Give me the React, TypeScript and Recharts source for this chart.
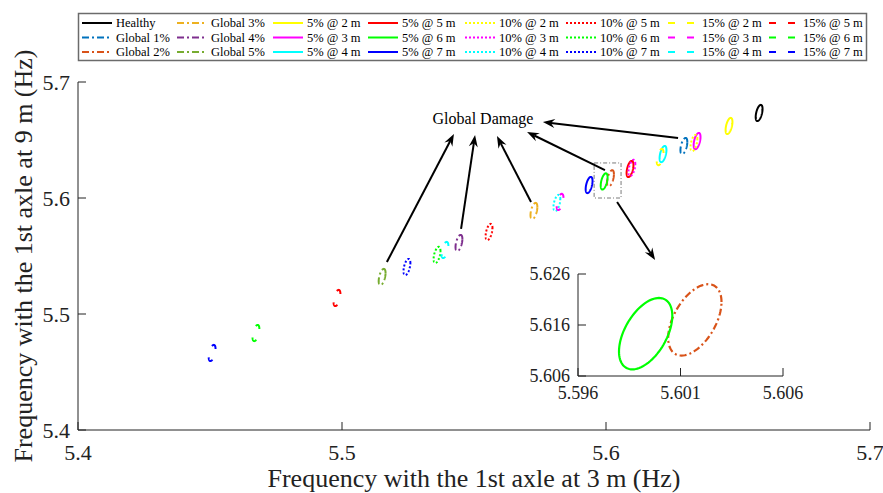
import {
  ReferenceArea,
  ReferenceDot,
  ReferenceLine,
  Scatter,
  ScatterChart,
  XAxis,
  YAxis,
} from "recharts"

const FONT = "'Liberation Serif', 'Times New Roman', Times, serif"
const AXIS_COLOR = "#222"

// Cases, in legend order (the legend box is filled column by column)
const seriesNames = [
  "Healthy", "Global 1%", "Global 2%",
  "Global 3%", "Global 4%", "Global 5%",
  "5% @ 2 m", "5% @ 3 m", "5% @ 4 m",
  "5% @ 5 m", "5% @ 6 m", "5% @ 7 m",
  "10% @ 2 m", "10% @ 3 m", "10% @ 4 m",
  "10% @ 5 m", "10% @ 6 m", "10% @ 7 m",
  "15% @ 2 m", "15% @ 3 m", "15% @ 4 m",
  "15% @ 5 m", "15% @ 6 m", "15% @ 7 m",
]

// Mean frequency (Hz) with the 1st axle at 3 m
const meanAt3m = [
  5.6580, 5.6295, 5.6017,
  5.5727, 5.5443, 5.5152,
  5.6466, 5.6345, 5.6216,
  5.6091, 5.5993, 5.5936,
  5.6333, 5.6098, 5.5814,
  5.5557, 5.5360, 5.5246,
  5.6205, 5.5826, 5.5390,
  5.4981, 5.4674, 5.4508,
]

// Mean frequency (Hz) with the 1st axle at 9 m
const meanAt9m = [
  5.6733, 5.6448, 5.6170,
  5.5888, 5.5612, 5.5319,
  5.6621, 5.6491, 5.6379,
  5.6250, 5.6143, 5.6112,
  5.6474, 5.6259, 5.5957,
  5.5707, 5.5509, 5.5405,
  5.6353, 5.5966, 5.5552,
  5.5138, 5.4836, 5.4664,
]

// Half-extent of each confidence ellipse and the correlation of the two frequencies
const spreadAt3m = 0.0013
const spreadAt9m = 0.007
const correlation = 0.5

const mainTicks = [5.4, 5.5, 5.6, 5.7]
const insetTicksX = [5.596, 5.601, 5.606]
const insetTicksY = [5.606, 5.616, 5.626]
const insetCases = ["Global 2%", "5% @ 6 m"]

// Zoom window marked in the main axes
const zoomX = [5.5955, 5.6057]
const zoomY = [5.6, 5.6302]

// Annotation arrows (tail -> head) in data units
const arrowTailX = [5.6273, 5.5996, 5.5716, 5.5451, 5.517, 5.6042]
const arrowTailY = [5.6517, 5.6241, 5.5966, 5.5733, 5.5448, 5.5966]
const arrowHeadX = [5.5761, 5.5701, 5.5587, 5.5504, 5.5424, 5.6186]
const arrowHeadY = [5.6655, 5.6569, 5.6534, 5.6543, 5.6552, 5.5466]
const noteText = "Global Damage"
const noteX = 5.5534
const noteY = 5.669

// ---- styles ----
const locationColors = ["#FFFF00", "#FF00FF", "#00FFFF", "#FF0000", "#00FF00", "#0000FF"]
const colors = [
  "#000000", "#0072BD", "#D95319", "#EDB120", "#7E2F8E", "#77AC30",
  ...locationColors, ...locationColors, ...locationColors,
]
const dashFor = (name: string) => {
  if (name.startsWith("Global")) return "7 3 2 3"
  if (name.startsWith("10%")) return "2 2"
  if (name.startsWith("15%")) return "7 12"
  return undefined
}

const ellipse = (cx: number, cy: number) => {
  const phase = Math.asin(correlation)
  const n = 90
  return Array.from({ length: n + 1 }, (_, k) => {
    const t = (2 * Math.PI * k) / n
    return {
      x: cx + spreadAt3m * Math.cos(t),
      y: cy + spreadAt9m * Math.sin(t + phase),
    }
  })
}

const series = seriesNames.map((name, i) => ({
  name,
  color: colors[i],
  dash: dashFor(name),
  points: ellipse(meanAt3m[i], meanAt9m[i]),
}))

const arrows = arrowTailX.map((x, i) => ({
  from: { x, y: arrowTailY[i] },
  to: { x: arrowHeadX[i], y: arrowHeadY[i] },
}))

const noMarker = () => <g />

// MATLAB-like ticks: short marks pointing into the axes, labels outside
type Side = "bottom" | "top" | "left" | "right"
const makeTick =
  (side: Side, fontSize = 0, digits = 1, gap = 0) =>
  (p: any) => {
    const { x, y, payload } = p
    const len = 8
    const label = Number(payload.value).toFixed(digits)
    let mark
    let text = null
    if (side === "bottom") {
      mark = <line x1={x} x2={x} y1={y} y2={y - len} stroke={AXIS_COLOR} />
      if (fontSize)
        text = (
          <text x={x} y={y + gap} textAnchor="middle" fontSize={fontSize} fontFamily={FONT} fill="#222">
            {label}
          </text>
        )
    } else if (side === "top") {
      mark = <line x1={x} x2={x} y1={y} y2={y + len} stroke={AXIS_COLOR} />
    } else if (side === "left") {
      mark = <line x1={x} x2={x + len} y1={y} y2={y} stroke={AXIS_COLOR} />
      if (fontSize)
        text = (
          <text x={x - gap} y={y} textAnchor="end" dominantBaseline="central" fontSize={fontSize} fontFamily={FONT} fill="#222">
            {label}
          </text>
        )
    } else {
      mark = <line x1={x} x2={x - len} y1={y} y2={y} stroke={AXIS_COLOR} />
    }
    return (
      <g>
        {mark}
        {text}
      </g>
    )
  }

// Line with a notched filled head at the (x2, y2) end
const ArrowShape = (p: any) => {
  const { x1, y1, x2, y2 } = p
  const dx = x2 - x1
  const dy = y2 - y1
  const len = Math.hypot(dx, dy) || 1
  const ux = dx / len
  const uy = dy / len
  const nx = -uy
  const ny = ux
  const headLen = 12
  const halfW = 4.5
  const notch = 8
  const bx = x2 - ux * headLen
  const by = y2 - uy * headLen
  const mx = x2 - ux * notch
  const my = y2 - uy * notch
  const d = `M${x2},${y2} L${bx + nx * halfW},${by + ny * halfW} L${mx},${my} L${bx - nx * halfW},${by - ny * halfW} Z`
  return (
    <g>
      <line x1={x1} y1={y1} x2={mx} y2={my} stroke="#000" strokeWidth={2} />
      <path d={d} fill="#000" />
    </g>
  )
}

const axisProps = {
  type: "number" as const,
  allowDataOverflow: true,
  interval: 0 as const,
  tickLine: false,
  tickSize: 0,
  tickMargin: 0,
  axisLine: { stroke: AXIS_COLOR, strokeWidth: 1 },
}

// legend layout
const legendColX = [82, 177, 273, 368, 465, 566, 668, 769]
const legendRowY = [23, 37.5, 52]

function LegendBox() {
  return (
    <svg width={883} height={70} style={{ position: "absolute", left: 0, top: 0 }}>
      <rect x={78.5} y={13.5} width={788} height={47} fill="#fff" stroke="#6b6b6b" strokeWidth={1.5} />
      {series.map((s, i) => {
        const x = legendColX[Math.floor(i / 3)]
        const y = legendRowY[i % 3]
        return (
          <g key={s.name}>
            <line x1={x} x2={x + 30} y1={y} y2={y} stroke={s.color} strokeWidth={2} strokeDasharray={s.dash} />
            <text x={x + 34} y={y} dominantBaseline="central" fontSize={12.5} fontFamily={FONT} fill="#000">
              {s.name}
            </text>
          </g>
        )
      })}
    </svg>
  )
}

function Inset() {
  const shown = series.filter((s) => insetCases.includes(s.name))
  return (
    <div style={{ position: "absolute", left: 510, top: 262 }}>
      <ScatterChart width={300} height={150} margin={{ top: 12, right: 27, bottom: 6, left: 0 }}>
        <XAxis {...axisProps} dataKey="x" domain={[5.596, 5.606]} ticks={insetTicksX} height={30} tick={makeTick("bottom", 18, 3, 23)} />
        <XAxis {...axisProps} xAxisId="top" orientation="top" domain={[5.596, 5.606]} ticks={insetTicksX} height={0} tick={makeTick("top")} />
        <YAxis {...axisProps} dataKey="y" domain={[5.606, 5.626]} ticks={insetTicksY} width={68} tick={makeTick("left", 18, 3, 8)} />
        <YAxis {...axisProps} yAxisId="right" orientation="right" domain={[5.606, 5.626]} ticks={insetTicksY} width={0} tick={makeTick("right")} />
        {shown.map((s) => (
          <Scatter
            key={s.name}
            name={s.name}
            data={s.points}
            line={{ stroke: s.color, strokeWidth: 2.2, strokeDasharray: s.dash }}
            shape={noMarker}
            isAnimationActive={false}
          />
        ))}
      </ScatterChart>
    </div>
  )
}

export default function App() {
  return (
    <div style={{ position: "absolute", left: 0, top: 0, width: 883, height: 493, background: "#fff" }}>
      <ScatterChart width={883} height={493} margin={{ top: 82, right: 13, bottom: 6, left: 0 }}>
        <XAxis
          {...axisProps}
          dataKey="x"
          domain={[5.4, 5.7]}
          ticks={mainTicks}
          height={57}
          tick={makeTick("bottom", 22, 1, 30)}
          label={{
            value: "Frequency with the 1st axle at 3 m (Hz)",
            position: "insideBottom",
            offset: 0,
            fill: "#222",
            fontSize: 26,
            fontFamily: FONT,
          }}
        />
        <XAxis {...axisProps} xAxisId="top" orientation="top" domain={[5.4, 5.7]} ticks={mainTicks} height={0} tick={makeTick("top")} />
        <YAxis
          {...axisProps}
          dataKey="y"
          domain={[5.4, 5.7]}
          ticks={mainTicks}
          width={78}
          tick={makeTick("left", 22, 1, 8)}
          label={{
            value: "Frequency with the 1st axle at 9 m (Hz)",
            angle: -90,
            position: "insideLeft",
            offset: 23,
            fill: "#222",
            fontSize: 26,
            fontFamily: FONT,
            style: { textAnchor: "middle" },
          }}
        />
        <YAxis {...axisProps} yAxisId="right" orientation="right" domain={[5.4, 5.7]} ticks={mainTicks} width={0} tick={makeTick("right")} />

        <ReferenceArea
          x1={zoomX[0]}
          x2={zoomX[1]}
          y1={zoomY[0]}
          y2={zoomY[1]}
          fill="none"
          stroke="#7a7a7a"
          strokeDasharray="4 2 1 2"
          ifOverflow="visible"
        />

        {series.map((s) => (
          <Scatter
            key={s.name}
            name={s.name}
            data={s.points}
            line={{ stroke: s.color, strokeWidth: 2, strokeDasharray: s.dash }}
            shape={noMarker}
            isAnimationActive={false}
          />
        ))}

        {arrows.map((a, i) => (
          <ReferenceLine key={i} segment={[a.from, a.to]} ifOverflow="visible" shape={ArrowShape} />
        ))}

        <ReferenceDot
          x={noteX}
          y={noteY}
          r={0}
          fill="none"
          stroke="none"
          ifOverflow="visible"
          label={{ value: noteText, position: "center", fill: "#000", fontSize: 16, fontFamily: FONT }}
        />
      </ScatterChart>
      <LegendBox />
      <Inset />
    </div>
  )
}
